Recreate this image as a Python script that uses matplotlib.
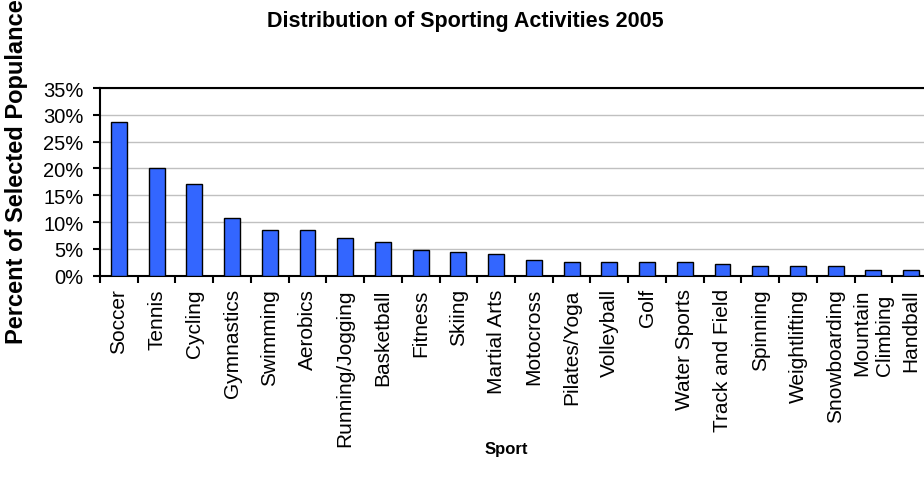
import matplotlib
matplotlib.use("Agg")
import matplotlib.pyplot as plt
import numpy as np
from matplotlib.ticker import FuncFormatter, MultipleLocator

plt.rcParams['font.family'] = ['Liberation Sans', 'DejaVu Sans']

# Share of selected populance doing each sport (%)
sports = ["Soccer", "Tennis", "Cycling", "Gymnastics", "Swimming", "Aerobics",
          "Running/Jogging", "Basketball", "Fitness", "Skiing", "Martial Arts",
          "Motocross", "Pilates/Yoga", "Volleyball", "Golf", "Water Sports",
          "Track and Field", "Spinning", "Weightlifting", "Snowboarding",
          "Mountain\nClimbing", "Handball"]
percent = [28.6, 20.0, 17.05, 10.7, 8.5, 8.5, 7.0, 6.2, 4.7, 4.4, 4.0,
           2.9, 2.5, 2.5, 2.5, 2.5, 2.1, 1.75, 1.75, 1.75, 1.0, 1.0]

fig = plt.figure(figsize=(9.24, 4.89), dpi=100)
# plot area runs a little past the right edge, as in the original
ax = fig.add_axes([100/924, 1 - 276.7/489, 830/924, 187.7/489])

x = np.arange(len(sports))
ax.bar(x, percent, width=0.42, color="#3366FF", edgecolor="black", linewidth=1, zorder=3)

ax.set_xlim(-0.5, len(sports) - 0.5)
ax.set_ylim(0, 35)
ax.yaxis.set_major_locator(MultipleLocator(5))
ax.yaxis.set_major_formatter(FuncFormatter(lambda v, p: f"{v:.0f}%"))
ax.grid(axis="y", color="#c0c0c0", linewidth=1, zorder=0)

ax.set_xticks(x)
ax.set_xticklabels(sports, rotation=90, fontsize=15, ha="center", va="top",
                   linespacing=1.25, multialignment="left")
# tick marks sit between the categories
ax.set_xticks(np.arange(-0.5, len(sports)), minor=True)
ax.tick_params(axis="x", which="major", length=0, pad=9)
ax.tick_params(axis="x", which="minor", length=5, width=1.5, direction="out")
ax.tick_params(axis="y", length=5, width=1.5, labelsize=14.5, pad=7)

for s in ["left", "bottom", "top"]:
    ax.spines[s].set_linewidth(1.5)
ax.spines["right"].set_visible(False)

fig.text(465/924, 1 - 22/489, "Distribution of Sporting Activities 2005",
         ha="center", va="center", fontsize=15.5, fontweight="bold")
fig.text(506/924, 1 - 450/489, "Sport", ha="center", va="center",
         fontsize=12, fontweight="bold")
fig.text(17/924, 1 - 172/489, "Percent of Selected Populance", rotation=90,
         ha="center", va="center", fontsize=17, fontweight="bold")

fig.savefig("out.png", dpi=100)
